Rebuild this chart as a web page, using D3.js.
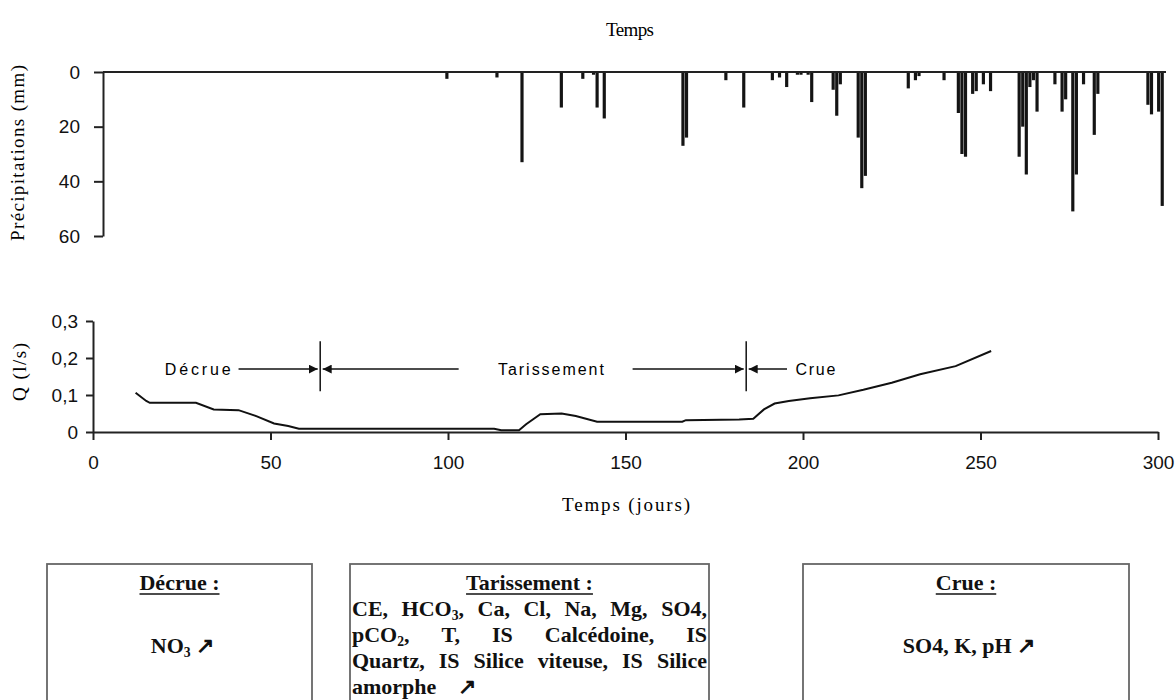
<!DOCTYPE html>
<html>
<head>
<meta charset="utf-8">
<script src="https://cdn.jsdelivr.net/npm/d3@7"></script>
<style>
  body { margin: 0; background: #fff; }
</style>
</head>
<body>
<div id="canvas"></div>
<script>
"use strict"

// daily rainfall (mm)
let rainDays = [99, 113, 120, 131, 137, 140, 141, 143, 165, 166,
    177, 182, 190, 192, 194, 197, 198, 200, 201, 207,
    208, 209, 214, 215, 216, 228, 230, 231, 238, 242,
    243, 244, 246, 247, 249, 251, 259, 260, 261, 262,
    263, 264, 269, 271, 272, 274, 275, 277, 280, 281,
    295, 296, 298, 299]
let rainMm = [2.5, 2, 33, 13, 2.5, 1, 13, 17, 27, 24,
    3, 13, 3, 2, 5.5, 1, 1, 1, 11, 6.5,
    16, 4.5, 24, 42.5, 38, 6, 3, 1.5, 3, 15,
    30, 31, 8, 7, 4.5, 7, 31, 20, 37.5, 5.5,
    3, 14.5, 4.5, 14.5, 10, 51, 37.5, 4.5, 23, 8,
    12, 15.5, 14.5, 49]

// discharge Q (l/s)
let qDays = [12, 15, 16, 29, 34, 41, 46, 51, 55, 58,
    113, 115, 120, 122, 126, 132, 136, 142, 166, 167,
    182, 186, 189, 192, 196, 202, 210, 217, 225, 233,
    243, 253]
let qValues = [0.106, 0.084, 0.079, 0.079, 0.061, 0.059, 0.043, 0.023, 0.016, 0.009,
    0.009, 0.005, 0.005, 0.021, 0.048, 0.050, 0.043, 0.028, 0.028, 0.032,
    0.034, 0.036, 0.061, 0.077, 0.084, 0.091, 0.099, 0.114, 0.133, 0.156,
    0.178, 0.219]

let rainTicks = [0, 20, 40, 60]
let qTicks = [0, 0.1, 0.2, 0.3]
let dayTicks = [0, 50, 100, 150, 200, 250, 300]

// phase limits on the hydrograph
let phaseLimits = [64, 184]

let drawing = d3.select("#canvas")
    .append("svg")
    .attr("width", 1175)
    .attr("height", 700)
    .style("font-family", "'Liberation Serif', 'Times New Roman', serif")

// ---------- top panel : precipitation ----------
let xTop = d3.scaleLinear().domain([0, 300]).range([93, 1166])
let yTop = d3.scaleLinear().domain([0, 60]).range([72, 236])
let dayWidth = xTop(1) - xTop(0)

drawing.append("text")
    .attr("x", 630)
    .attr("y", 36)
    .attr("text-anchor", "middle")
    .attr("font-size", 19)
    .attr("textLength", 48)
    .text("Temps")

drawing.append("g")
    .selectAll("rect")
    .data(rainDays)
    .join("rect")
    .attr("x", (d, i) => xTop(d) - dayWidth / 2)
    .attr("y", yTop(0))
    .attr("width", dayWidth - 0.4)
    .attr("height", (d, i) => yTop(rainMm[i]) - yTop(0))
    .attr("fill", "#141414")

let zeroLine = drawing.append("line")
    .attr("x1", 103)
    .attr("x2", xTop(300))
    .attr("y1", yTop(0))
    .attr("y2", yTop(0))
    .attr("stroke", "#222")
    .attr("stroke-width", 2)

let rainAxis = drawing.append("g")
    .attr("transform", "translate(103,0)")
    .call(d3.axisLeft(yTop).tickValues(rainTicks).tickSize(9).tickSizeOuter(0).tickPadding(14))
rainAxis.select(".domain").attr("stroke", "#222").attr("stroke-width", 2)
rainAxis.selectAll(".tick line").attr("stroke", "#222").attr("stroke-width", 2)
rainAxis.selectAll(".tick text")
    .attr("font-family", "'Liberation Sans', Arial, sans-serif")
    .attr("font-size", 19)
    .attr("fill", "#111")

drawing.append("text")
    .attr("transform", "translate(24,153) rotate(-90)")
    .attr("text-anchor", "middle")
    .attr("font-size", 19)
    .attr("textLength", 176)
    .text("Précipitations (mm)")

// ---------- bottom panel : discharge ----------
let xBot = d3.scaleLinear().domain([0, 300]).range([93, 1158])
let yBot = d3.scaleLinear().domain([0, 0.3]).range([432, 321])
let commaFmt = d => d === 0 ? "0" : d3.format(".1f")(d).replace(".", ",")

let dayAxis = drawing.append("g")
    .attr("transform", "translate(0,432)")
    .call(d3.axisBottom(xBot).tickValues(dayTicks).tickSize(8).tickSizeOuter(0).tickPadding(16))
dayAxis.select(".domain").attr("stroke", "#222").attr("stroke-width", 2)
dayAxis.selectAll(".tick line").attr("stroke", "#222").attr("stroke-width", 2)
dayAxis.selectAll(".tick text")
    .attr("font-family", "'Liberation Sans', Arial, sans-serif")
    .attr("font-size", 19)
    .attr("fill", "#111")

let qAxis = drawing.append("g")
    .attr("transform", "translate(93,0)")
    .call(d3.axisLeft(yBot).tickValues(qTicks).tickFormat(commaFmt).tickSize(7).tickSizeOuter(0).tickPadding(8))
qAxis.select(".domain").attr("stroke", "#222").attr("stroke-width", 2)
qAxis.selectAll(".tick line").attr("stroke", "#222").attr("stroke-width", 2)
qAxis.selectAll(".tick text")
    .attr("font-family", "'Liberation Sans', Arial, sans-serif")
    .attr("font-size", 19)
    .attr("fill", "#111")

drawing.append("text")
    .attr("transform", "translate(26,372) rotate(-90)")
    .attr("text-anchor", "middle")
    .attr("font-size", 19)
    .attr("textLength", 58)
    .text("Q (l/s)")

drawing.append("text")
    .attr("x", 626)
    .attr("y", 511)
    .attr("text-anchor", "middle")
    .attr("font-size", 19)
    .attr("textLength", 128)
    .text("Temps (jours)")

let qLine = d3.line()
    .x((d, i) => xBot(d))
    .y((d, i) => yBot(qValues[i]))

drawing.append("path")
    .attr("d", qLine(qDays))
    .attr("fill", "none")
    .attr("stroke", "#111")
    .attr("stroke-width", 2)

// arrowheads
let defs = drawing.append("defs")
defs.append("marker")
    .attr("id", "head")
    .attr("viewBox", "0 0 10 10")
    .attr("refX", 10)
    .attr("refY", 5)
    .attr("markerWidth", 9)
    .attr("markerHeight", 9)
    .attr("markerUnits", "userSpaceOnUse")
    .attr("orient", "auto")
    .append("path")
    .attr("d", "M0,0 L10,5 L0,10 Z")
    .attr("fill", "#111")

let arrowY = yBot(0.17)

drawing.append("g")
    .selectAll("line")
    .data(phaseLimits)
    .join("line")
    .attr("x1", d => xBot(d))
    .attr("x2", d => xBot(d))
    .attr("y1", yBot(0.245))
    .attr("y2", yBot(0.11))
    .attr("stroke", "#111")
    .attr("stroke-width", 1.5)

// [from, to] in days
let arrowSpans = [[41, 63.3], [103, 64.7], [152, 183.3], [195.5, 184.7]]
drawing.append("g")
    .selectAll("line")
    .data(arrowSpans)
    .join("line")
    .attr("x1", d => xBot(d[0]))
    .attr("x2", d => xBot(d[1]))
    .attr("y1", arrowY)
    .attr("y2", arrowY)
    .attr("stroke", "#111")
    .attr("stroke-width", 1.5)
    .attr("marker-end", "url(#head)")

let phaseLabels = [
    { text: "Décrue", day: 29.5, len: 66 },
    { text: "Tarissement", day: 129, len: 106 },
    { text: "Crue", day: 203.5, len: 40 }
]
drawing.append("g")
    .selectAll("text")
    .data(phaseLabels)
    .join("text")
    .attr("x", d => xBot(d.day))
    .attr("y", arrowY + 6)
    .attr("text-anchor", "middle")
    .attr("font-family", "'Liberation Sans', Arial, sans-serif")
    .attr("font-size", 16)
    .attr("textLength", d => d.len)
    .text(d => d.text)

// ---------- boxes with the parameters of each phase ----------
function richText(sel, str) {
    // "_3" means subscript 3
    let parts = str.split(/_(\d)/)
    parts.forEach((p, i) => {
        if (p === "") return
        let ts = sel.append("tspan").text(p)
        if (i % 2 === 1) {
            ts.attr("font-size", "0.62em").attr("dy", 3.5)
        } else if (i > 0) {
            ts.attr("dy", -3.5)
        }
    })
}

let boxes = [
    { x: 47, w: 265, title: "Décrue :", lines: ["NO_3  ↗"], justify: false },
    { x: 350, w: 359, title: "Tarissement :", lines: [
        "CE, HCO_3, Ca, Cl, Na, Mg, SO4,",
        "pCO_2, T, IS Calcédoine, IS",
        "Quartz, IS Silice viteuse, IS Silice",
        "amorphe  ↗"], justify: true },
    { x: 803, w: 326, title: "Crue :", lines: ["SO4, K, pH ↗"], justify: false }
]

boxes.forEach(b => {
    let g = drawing.append("g")
        .attr("font-weight", "bold")
        .attr("font-size", 22)
        .attr("fill", "#111")
    g.append("rect")
        .attr("x", b.x)
        .attr("y", 564)
        .attr("width", b.w)
        .attr("height", 160)
        .attr("fill", "none")
        .attr("stroke", "#666")
        .attr("stroke-width", 1.8)
    let title = g.append("text")
        .attr("x", b.x + b.w / 2)
        .attr("y", 590)
        .attr("text-anchor", "middle")
        .text(b.title)
    let tw = title.node().getComputedTextLength()
    g.append("line")
        .attr("x1", b.x + b.w / 2 - tw / 2)
        .attr("x2", b.x + b.w / 2 + tw / 2)
        .attr("y1", 594)
        .attr("y2", 594)
        .attr("stroke", "#111")
        .attr("stroke-width", 1.4)

    if (!b.justify) {
        let t = g.append("text")
            .attr("x", b.x + b.w / 2 + 3)
            .attr("y", 653)
            .attr("text-anchor", "middle")
        richText(t, b.lines[0])
        return
    }
    let left = b.x + 2
    let right = b.x + b.w - 2
    b.lines.forEach((line, li) => {
        let y = 616 + li * 26
        let words = line.split(/\s+/)
        let last = li === b.lines.length - 1
        let nodes = words.map(w => {
            let t = g.append("text").attr("y", y)
            richText(t, w)
            return t
        })
        let widths = nodes.map(n => n.node().getComputedTextLength())
        let total = d3.sum(widths)
        let gap = last ? 22 : (right - left - total) / (words.length - 1)
        let x = left
        nodes.forEach((n, i) => {
            n.attr("x", x)
            x += widths[i] + gap
        })
    })
})
</script>
</body>
</html>
